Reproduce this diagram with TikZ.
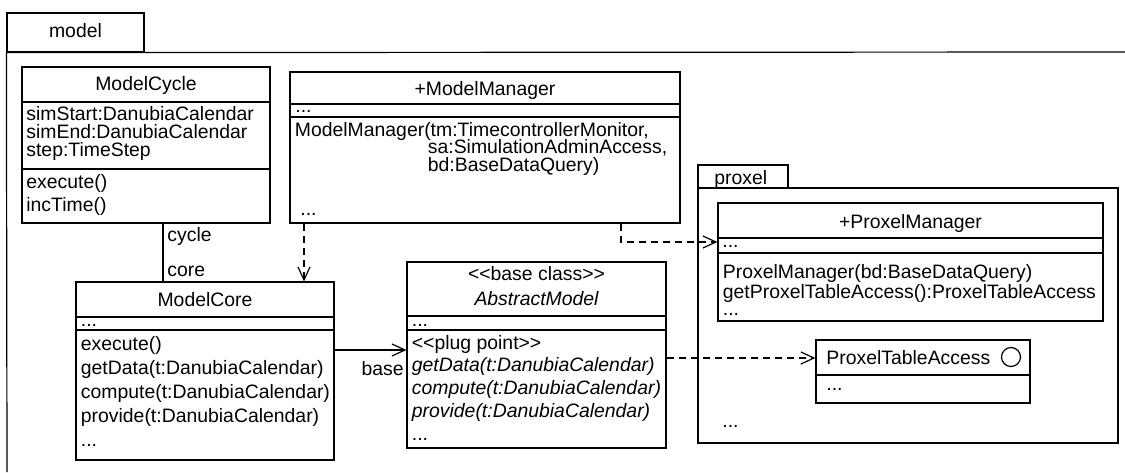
\documentclass[tikz,border=0pt]{standalone}
\usepackage{fontspec}
\setmainfont{Liberation Sans}
\usetikzlibrary{fit,arrows.meta}
\newcommand{\fsz}{\fontsize{9.7}{9}\selectfont\lineskiplimit=-20pt\lineskip=0pt}
\begin{document}
\begin{tikzpicture}[x=0.5pt,y=-0.5pt,
  box/.style={draw, inner sep=0pt, line width=0.6pt},
  sep/.style={line width=0.6pt},
  txt/.style={anchor=base west, inner sep=0pt, font=\fsz},
  mtxt/.style={anchor=base west, inner sep=0pt, font=\fsz, align=left},
  ctxt/.style={anchor=base, inner sep=0pt, font=\fsz},
  itxt/.style={txt, font=\fsz\itshape},
  assoc/.style={line width=0.6pt},
  nav/.style={line width=0.6pt, -{Straight Barb[length=6.5pt,width=6pt]}},
  dep/.style={line width=0.6pt, dash pattern=on 3.5pt off 2.5pt, -{Straight Barb[length=6.5pt,width=6pt]}},
]
\useasboundingbox (0,0) rectangle (1125,472);

% model package
\node[box, fit={(7,13)(144,52)}] (modeltab) {};
\node[ctxt] (modellbl) at (75.5,37) {model};
\draw[sep] (7,472) -- (modeltab.south west) -- (1125,52);

% proxel package
\node[box, fit={(698,165)(788,188)}] (proxeltab) {};
\node[box, fit={(698,188)(1118,443)}] (proxelpkg) {};
\node[txt] (proxellbl) at (714,184) {proxel};
\node[txt] (proxeldots) at (722,427) {...};

% ModelCycle (multi-line nodes: base = last line's baseline)
\node[box, fit={(22,67)(270,223)}] (mcyc) {};
\draw[sep] (22,102) -- (270,102);
\draw[sep] (22,169) -- (270,169);
\node[ctxt] (mcycn) at (146,90.5) {ModelCycle};
\node[mtxt] (mcyca) at (26,156.5) {simStart:DanubiaCalendar\\simEnd:DanubiaCalendar\\step:TimeStep};
\node[mtxt] (mcycm) at (26,211.5) {execute()\\[2.75pt]incTime()};

% ModelManager
\node[box, fit={(290,72)(680,223)}] (mman) {};
\draw[sep] (290,104) -- (680,104);
\draw[sep] (290,117) -- (680,117);
\node[ctxt] (mmann) at (485,95) {+ModelManager};
\node[txt] (mmana) at (295,112.5) {...};
\node[mtxt] (mmanm) at (294.5,171.5) {ModelManager(tm:TimecontrollerMonitor,\\[-0.5pt]
  \hspace*{66.5pt}sa:SimulationAdminAccess,\\
  \hspace*{66.5pt}bd:BaseDataQuery)};
\node[txt] (mmanm4) at (300,215) {...};

% ModelCore
\node[box, fit={(76,282)(334,460)}] (mcore) {};
\draw[sep] (76,317) -- (334,317);
\draw[sep] (76,330) -- (334,330);
\node[ctxt] (mcoren) at (205,306) {ModelCore};
\node[txt] (mcorea) at (80.5,326) {...};
\node[mtxt] (mcorem) at (80.5,446.5) {execute()\\[3pt]getData(t:DanubiaCalendar)\\[3pt]compute(t:DanubiaCalendar)\\[3pt]provide(t:DanubiaCalendar)\\[3pt]...};

% AbstractModel
\node[box, fit={(407,262)(666,448)}] (amod) {};
\draw[sep] (407,316) -- (666,316);
\draw[sep] (407,330) -- (666,330);
\node[ctxt] (amods) at (536.5,280) {<{}<base class>{}>};
\node[ctxt, font=\fsz\itshape] (amodn) at (536.5,305) {AbstractModel};
\node[txt] (amoda) at (411.5,326) {...};
\node[mtxt] (amodm) at (411.5,440) {<{}<plug point>{}>\\[2.35pt]\textit{getData(t:DanubiaCalendar)}\\[2.35pt]\textit{compute(t:DanubiaCalendar)}\\[2.35pt]\textit{provide(t:DanubiaCalendar)}\\[2.35pt]...};

% ProxelManager
\node[box, fit={(718,203)(1103,321)}] (pman) {};
\draw[sep] (718,238) -- (1103,238);
\draw[sep] (718,253) -- (1103,253);
\node[ctxt] (pmann) at (910.5,228) {+ProxelManager};
\node[txt] (pmana) at (722,247) {...};
\node[mtxt] (pmanm) at (722.5,315) {ProxelManager(bd:BaseDataQuery)\\[1pt]getProxelTableAccess():ProxelTableAccess\\[-0.65pt]...};

% ProxelTableAccess
\node[box, fit={(816,340)(1030,403)}] (pta) {};
\draw[sep] (816,375) -- (1030,375);
\node[txt] (ptan) at (826,364) {ProxelTableAccess};
\node[draw, circle, inner sep=0pt, minimum size=9.5pt, line width=0.6pt] (ptai) at (1011,357) {};
\node[txt] (ptaa) at (826,390) {...};

% connectors
\coordinate (cx) at (163,0);
\coordinate (dx) at (304,0);
\coordinate (ex) at (621,0);
\coordinate (ey) at (0,242);
\coordinate (by) at (0,350);
\coordinate (py) at (0,358);

\draw[assoc] (mcyc.south -| cx) -- (mcore.north -| cx);
\node[txt] (lcycle) at (167,241.5) {cycle};
\node[txt] (lcore) at (167,276) {core};

\draw[dep] (mman.south -| dx) -- (mcore.north -| dx);
\draw[dep] (mman.south -| ex) |- (pman.west |- ey);

\draw[nav] (mcore.east |- by) -- (amod.west |- by);
\node[anchor=base east, inner sep=0pt, font=\fsz] (lbase) at (404,375) {base};

\draw[dep] (amod.east |- py) -- (pta.west |- py);
\end{tikzpicture}
\end{document}
